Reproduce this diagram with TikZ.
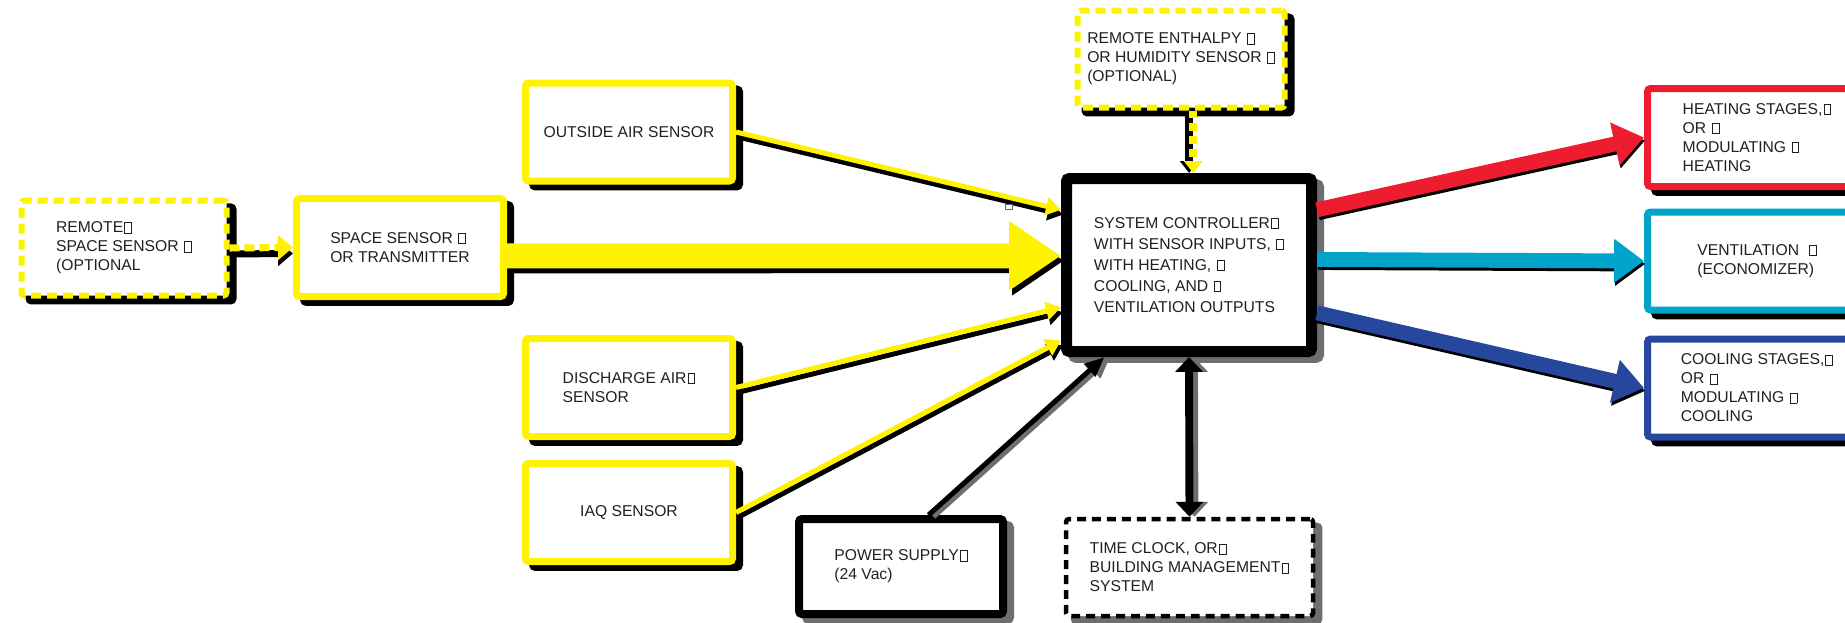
\documentclass[tikz,border=0pt]{standalone}
\usepackage{fontspec}
\setmainfont{Liberation Sans}
\usetikzlibrary{calc, shadows, arrows.meta}

\newlength\pxl
\setlength\pxl{0.02cm}

\definecolor{hvyellow}{HTML}{FFF200}
\definecolor{hvred}{HTML}{ED1C2E}
\definecolor{hvcyan}{HTML}{00A3C9}
\definecolor{hvblue}{HTML}{27479C}
\definecolor{shadegray}{HTML}{6D6E71}
\definecolor{textgray}{HTML}{231F20}

% the empty glyph box that the drawing prints at line ends
\newcommand\nd{\kern0.6pt{\fboxsep0pt\fboxrule0.5pt\fbox{\rule{0pt}{5.4pt}\kern3.4pt}}}

\tikzset{
  every node/.style={text=textgray, font=\fontsize{8.93}{10.81}\selectfont},
  box/.style={draw, fill=white, rounded corners=1.7pt, align=left, inner sep=0pt,
    line width=7\pxl, minimum width=207\pxl, minimum height=98\pxl,
    drop shadow={shadow xshift=4pt, shadow yshift=-3.4pt, opacity=1,
      fill=#1, draw=#1, solid}},
  box/.default=black,
  optional/.style={dash pattern=on 5.7pt off 3.4pt, line width=6\pxl},
  castshadow/.style={transform canvas={shift={#1}}},
  feed/.style={line width=2.85pt, -{Triangle[length=8.5pt,width=10.2pt]}},
  mainfeed/.style={line width=14.2pt, -{Triangle[length=29.6pt,width=37.6pt]}},
  remotefeed/.style={line width=4pt, -{Triangle[length=8.5pt,width=13.7pt]}},
  enthfeed/.style={line width=4.5pt, -{Triangle[length=6.8pt,width=10.2pt]}},
  powerfeed/.style={line width=2.85pt, -{Triangle[length=11.4pt,width=9.1pt]}},
  outfeed/.style={line width=8.5pt, -{Triangle[length=17pt,width=23.9pt]}},
  busarrow/.style={line width=4.5pt,
    arrows={Triangle[length=8.5pt,width=15.4pt]-Triangle[length=8.5pt,width=15.4pt]}},
}

\begin{document}
\begin{tikzpicture}[x=0.02cm, y=-0.02cm]
  \useasboundingbox (0,0) rectangle (1845,622);
  \clip (0,0) rectangle (1845,622);

  % sensors
  \node[box, draw=hvyellow, optional, minimum width=205\pxl, minimum height=95\pxl] (rspace) at (124,248) {REMOTE\nd\\SPACE SENSOR \nd\\(OPTIONAL};
  \node[box, draw=hvyellow] (space) at (400,247.5) {SPACE SENSOR \nd\\OR TRANSMITTER};
  \node[box, draw=hvyellow] (outside) at (629,132) {OUTSIDE AIR SENSOR};
  \node[box, draw=hvyellow] (discharge) at (629,387.5) {DISCHARGE AIR\nd\\SENSOR};
  \node[box, draw=hvyellow] (iaq) at (629,512.5) {IAQ SENSOR};
  \node[box, draw=hvyellow, optional, minimum height=97\pxl] (enth) at (1181,59) {REMOTE ENTHALPY \nd\\OR HUMIDITY SENSOR \nd\\(OPTIONAL)};

  % controller, supply and clock
  \node[box=shadegray, line width=11\pxl, minimum width=245\pxl, minimum height=173\pxl,
    font=\fontsize{8.93}{11.95}\selectfont] (ctrl) at (1189,265)
    {SYSTEM CONTROLLER\nd\\WITH SENSOR INPUTS, \nd\\WITH HEATING, \nd\\COOLING, AND \nd\\VENTILATION OUTPUTS};
  \node[box=shadegray, line width=8\pxl, minimum width=204\pxl, minimum height=95\pxl] (power) at (901,566.5) {POWER SUPPLY\nd\\(24 Vac)};
  \node[box=shadegray, dash pattern=on 5.1pt off 3.4pt, line width=4.5\pxl, minimum width=247\pxl, minimum height=97\pxl] (clock) at (1189.5,567.5) {TIME CLOCK, OR\nd\\BUILDING MANAGEMENT\nd\\SYSTEM};

  % outputs
  \node[box, draw=hvred, minimum width=219\pxl] (heat) at (1757,137.5) {HEATING STAGES,\nd\\OR \nd\\MODULATING \nd\\HEATING};
  \node[box, draw=hvcyan, minimum width=219\pxl] (vent) at (1757,261) {VENTILATION \ \nd\\(ECONOMIZER)};
  \node[box, draw=hvblue, minimum width=219\pxl] (cool) at (1757,388) {COOLING STAGES,\nd\\OR \nd\\MODULATING \nd\\COOLING};

  \coordinate (spaceout) at ($(space.north east)!0.58!(space.south east)$);
  \coordinate (enthout) at ($(enth.south west)!0.557!(enth.south east)$);
  \coordinate (powerout) at ($(power.north west)!0.63!(power.north east)$);

  % remote sensor into space sensor
  \draw[remotefeed, black, castshadow={(0pt,-3.4pt)}] (rspace.east) -- (space.west);
  \draw[remotefeed, hvyellow, dash pattern=on 5.7pt off 2.8pt] (rspace.east) -- (space.west);

  % space sensor into controller
  \foreach \c/\s in {black/{(1.7pt,-2.8pt)}, hvyellow/{(0pt,0pt)}}
    \draw[mainfeed, \c, castshadow=\s] (spaceout) -- ($(ctrl.north west)!0.45!(ctrl.south west)$);

  % other sensors
  \foreach \src/\f in {outside/0.2, discharge/0.73, iaq/0.91}{
    \draw[feed, black, castshadow={(1pt,-2.8pt)}] (\src.east) -- ($(ctrl.north west)!\f!(ctrl.south west)$);
    \draw[feed, hvyellow] (\src.east) -- ($(ctrl.north west)!\f!(ctrl.south west)$);
  }

  \draw[enthfeed, black, castshadow={(-2.3pt,0pt)}] (enthout) -- (enthout |- ctrl.north);
  \draw[enthfeed, hvyellow, dash pattern=on 4.5pt off 2.8pt] (enthout) -- (enthout |- ctrl.north);

  \draw[powerfeed, shadegray, castshadow={(2.8pt,-1pt)}] (powerout) -- ($(ctrl.south west)!0.17!(ctrl.south east)$);
  \draw[powerfeed, black] (powerout) -- ($(ctrl.south west)!0.17!(ctrl.south east)$);

  \draw[busarrow, shadegray, castshadow={(2.8pt,0pt)}] (ctrl.south) -- (clock.north);
  \draw[busarrow, black] (ctrl.south) -- (clock.north);

  % controller outputs
  \foreach \dst/\f/\c in {heat/0.2/hvred, vent/0.47/hvcyan, cool/0.76/hvblue}{
    \draw[outfeed, black, castshadow={(0.6pt,-1.7pt)}] ($(ctrl.north east)!\f!(ctrl.south east)$) -- (\dst.west);
    \draw[outfeed, \c] ($(ctrl.north east)!\f!(ctrl.south east)$) -- (\dst.west);
  }

  \node[draw=black!60, line width=0.4pt, inner sep=0pt, minimum width=7\pxl, minimum height=5\pxl] (stray) at (1009,207) {};
\end{tikzpicture}
\end{document}
